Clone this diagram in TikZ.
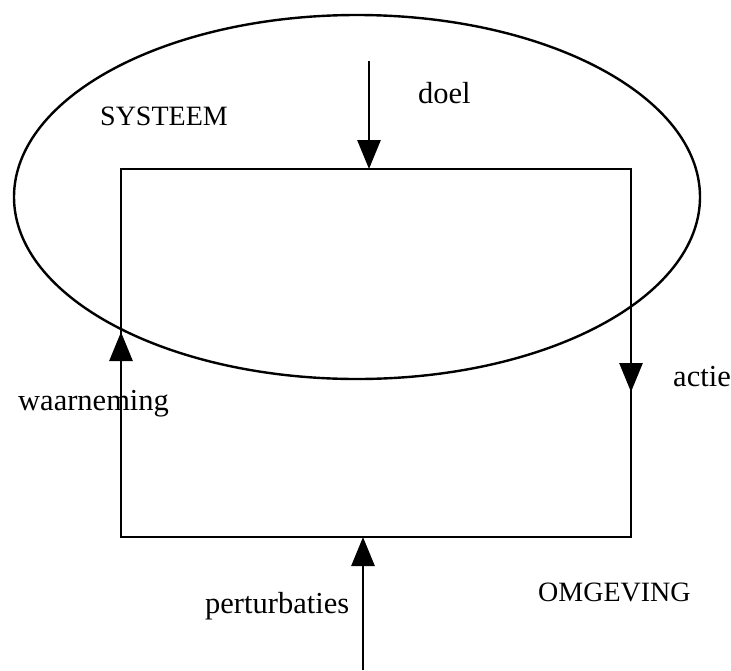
\documentclass[tikz,border=0pt]{standalone}
\usepackage{fontspec}
\setmainfont{Liberation Serif}
\usetikzlibrary{arrows.meta}
\tikzset{
  wire/.style={line width=2.8pt, line cap=butt},
  tip/.style={-{Triangle[length=29pt,width=23pt]}},
  lbl/.style={anchor=base west, inner sep=0pt, font=\fontsize{30.5}{32}\selectfont},
  caplbl/.style={lbl, font=\fontsize{28}{30}\selectfont},
}
\begin{document}
\begin{tikzpicture}[x=1pt,y=-1pt]
\useasboundingbox (0,0) rectangle (731,670);
% system ellipse
\draw[line width=2.4pt] (357,197) ellipse [x radius=343, y radius=182];
% corners of the loop
\coordinate (tl) at (121,169);
\coordinate (tr) at (631,169);
\coordinate (br) at (631,537);
\coordinate (bl) at (121,537);
\draw[wire, line join=miter] (tl) -- (tr) -- (br) -- (bl) -- cycle;
% arrows on the loop
\coordinate (wA) at (121,366);
\coordinate (wB) at (121,332);
\draw[wire, tip] (wA) -- (wB);
\coordinate (aA) at (631,360);
\coordinate (aB) at (631,392);
\draw[wire, tip] (aA) -- (aB);
% goal and perturbation inputs
\coordinate (dS) at (369,61);
\coordinate (dE) at (369,169);
\draw[wire, tip] (dS) -- (dE);
\coordinate (pS) at (363,670);
\coordinate (pE) at (363,537);
\draw[wire, tip] (pS) -- (pE);
% labels
\node[caplbl] (systeem) at (100,125) {SYSTEEM};
\node[lbl] (doel) at (418,103) {doel};
\node[lbl] (waarneming) at (18,410) {waarneming};
\node[lbl] (actie) at (673,386) {actie};
\node[lbl] (perturbaties) at (205,613) {perturbaties};
\node[caplbl] (omgeving) at (538,601) {OMGEVING};
\end{tikzpicture}
\end{document}
